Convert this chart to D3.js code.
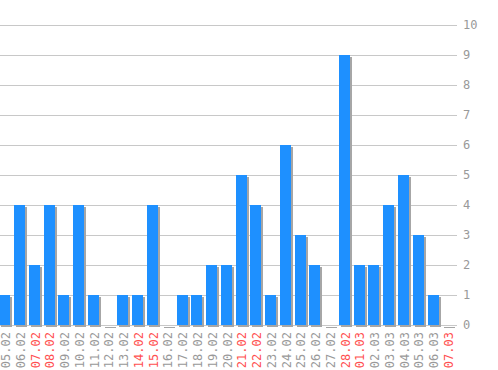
<!DOCTYPE html>
<html lang="en">
<head>
    <meta charset="UTF-8">
    <script src="https://d3js.org/d3.v7.min.js"></script>
    <style>
    html, body { margin: 0; background: #fff; }
    svg { display: block; }
    text { font-family: "DejaVu Sans Mono", monospace; }
    </style>
    <title>Daily counts</title>
</head>
<body>
    <div id="chart"></div>
    <script type="text/javascript">

    var days = ["05.02","06.02","07.02","08.02","09.02","10.02","11.02","12.02","13.02","14.02",
                "15.02","16.02","17.02","18.02","19.02","20.02","21.02","22.02","23.02","24.02",
                "25.02","26.02","27.02","28.02","01.03","02.03","03.03","04.03","05.03","06.03","07.03"];
    var counts = [1,4,2,4,1,4,1,0,1,1,
                  4,0,1,1,2,2,5,4,1,6,
                  3,2,0,9,2,2,4,5,3,1,0];
    // weekend days shown in red
    var redDays = ["07.02","08.02","14.02","15.02","21.02","22.02","28.02","01.03","07.03"];
    var yTicks = [0,1,2,3,4,5,6,7,8,9,10];

    var width = 498, height = 370;

    var svg = d3.select("#chart").append("svg")
        .attr("width", width)
        .attr("height", height);

    var x = d3.scaleBand()
        .domain(days)
        .range([-2.6, 455.2])
        .paddingInner(0.255)
        .paddingOuter(0.13);

    var y = d3.scaleLinear()
        .domain([0, 10])
        .range([325, 25]);

    // grid lines
    svg.append("g").selectAll("line")
        .data(yTicks)
        .enter()
        .append("line")
        .attr("x1", 0)
        .attr("x2", 457)
        .attr("y1", function (d) { return Math.round(y(d)) + 0.5; })
        .attr("y2", function (d) { return Math.round(y(d)) + 0.5; })
        .attr("stroke", "#c8c8c8")
        .attr("stroke-width", 1);

    // right side tick labels
    svg.append("g").selectAll("text")
        .data(yTicks)
        .enter()
        .append("text")
        .attr("x", 463)
        .attr("y", function (d) { return y(d); })
        .attr("dy", "0.35em")
        .attr("font-size", "12px")
        .attr("fill", "#999")
        .text(function (d) { return d; });

    var bw = 11;
    function barX(d) { return Math.round(x(d) + x.bandwidth() / 2 - bw / 2); }

    // shadows
    svg.append("g").selectAll("rect")
        .data(days)
        .enter()
        .append("rect")
        .attr("x", function (d) { return barX(d) + 2; })
        .attr("y", function (d, i) { return Math.round(y(counts[i])) + 2; })
        .attr("width", bw)
        .attr("height", function (d, i) { return Math.max(1, 325 - Math.round(y(counts[i]))); })
        .attr("fill", "#a6a6a6");

    // bars
    svg.append("g").selectAll("rect")
        .data(days)
        .enter()
        .append("rect")
        .attr("x", barX)
        .attr("y", function (d, i) { return Math.round(y(counts[i])); })
        .attr("width", bw)
        .attr("height", function (d, i) { return 325 - Math.round(y(counts[i])); })
        .attr("fill", "#1e90ff");

    // date labels
    svg.append("g").selectAll("text")
        .data(days)
        .enter()
        .append("text")
        .attr("transform", function (d) {
            return "translate(" + (x(d) + x.bandwidth() / 2 + 1) + ",332) rotate(-90)";
        })
        .attr("dy", "0.35em")
        .attr("text-anchor", "end")
        .attr("font-size", "12px")
        .attr("fill", function (d) { return redDays.indexOf(d) >= 0 ? "#ff5050" : "#999"; })
        .text(function (d) { return d; });

    </script>
</body>
</html>
